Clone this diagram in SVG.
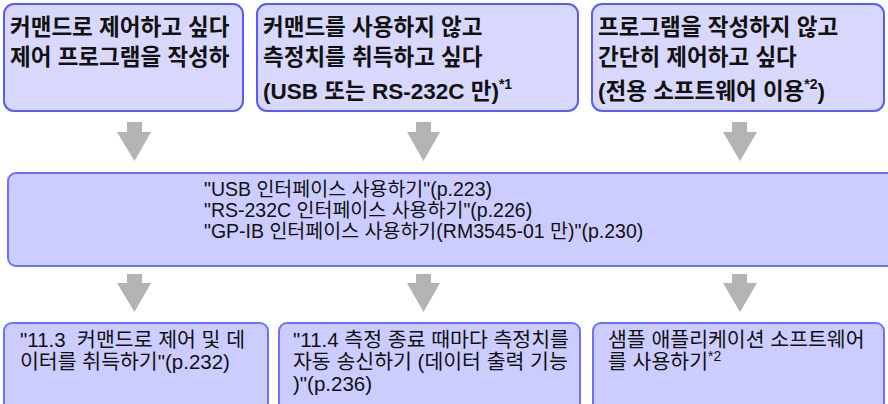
<svg xmlns="http://www.w3.org/2000/svg" width="888" height="404" viewBox="0 0 888 404">
<style>
.top{fill:#d8d8fc;stroke:#5a5aff;stroke-width:2}
.box{fill:#ccccff;stroke:#6e6eff;stroke-width:2}
.arr{fill:#b3b3b3}
text{font-family:"Liberation Sans","Noto Sans CJK KR",sans-serif;fill:#111}
.b{font-weight:bold;font-size:22.5px}
.r{font-size:19.5px}
.rb{font-size:20.5px}
.sup{font-size:14px}
</style>
<rect width="888" height="404" fill="#fff"/>
<g id="n1">
<rect class="top" x="4" y="4" width="239" height="107" rx="10"/>
<text class="b" x="10" y="35">커맨드로 제어하고 싶다</text>
<text class="b" x="10" y="65">제어 프로그램을 작성하</text>
</g>
<g id="n2">
<rect class="top" x="257" y="4" width="321" height="107" rx="10"/>
<text class="b" x="263" y="35">커맨드를 사용하지 않고</text>
<text class="b" x="263" y="65">측정치를 취득하고 싶다</text>
<text class="b" x="263" y="99">(USB 또는 RS-232C 만)<tspan class="sup" dy="-10">*1</tspan></text>
</g>
<g id="n3">
<rect class="top" x="592" y="4" width="292" height="107" rx="10"/>
<text class="b" x="598" y="35">프로그램을 작성하지 않고</text>
<text class="b" x="598" y="65">간단히 제어하고 싶다</text>
<text class="b" x="598" y="99">(전용 소프트웨어 이용<tspan class="sup" dy="-10">*2</tspan><tspan dy="10">)</tspan></text>
</g>
<g id="n4">
<rect class="box" x="8" y="173" width="892" height="93" rx="8"/>
<text class="r" x="204" y="196">"USB 인터페이스 사용하기"(p.223)</text>
<text class="r" x="204" y="217">"RS-232C 인터페이스 사용하기"(p.226)</text>
<text class="r" x="204" y="238">"GP-IB 인터페이스 사용하기(RM3545-01 만)"(p.230)</text>
</g>
<g id="n5">
<rect class="box" x="4" y="323" width="264" height="100" rx="8"/>
<text class="rb" x="20" y="347">"11.3&#160; 커맨드로 제어 및 데</text>
<text class="rb" x="20" y="369">이터를 취득하기"(p.232)</text>
</g>
<g id="n6">
<rect class="box" x="279" y="323" width="301" height="100" rx="8"/>
<text class="rb" x="293" y="347">"11.4 측정 종료 때마다 측정치를</text>
<text class="rb" x="293" y="369">자동 송신하기 (데이터 출력 기능</text>
<text class="rb" x="293" y="391">)"(p.236)</text>
</g>
<g id="n7">
<rect class="box" x="593" y="323" width="291" height="100" rx="8"/>
<text class="rb" x="608" y="347">샘플 애플리케이션 소프트웨어</text>
<text class="rb" x="608" y="369">를 사용하기<tspan class="sup" dy="-8">*2</tspan></text>
</g>
<g id="connectors">
<polygon class="arr" points="127,122 142,122 142,132 151,132 134.5,161 117,132 127,132"/>
<polygon class="arr" points="416,122 431,122 431,132 440,132 423.5,161 407,132 416,132"/>
<polygon class="arr" points="732,122 747,122 747,132 757,132 740,161 723,132 732,132"/>
<polygon class="arr" points="127,274 142,274 142,283 151,283 134.5,312 117,283 127,283"/>
<polygon class="arr" points="416,274 431,274 431,283 440,283 423.5,312 407,283 416,283"/>
<polygon class="arr" points="732,274 747,274 747,283 757,283 740,312 723,283 732,283"/>
</g>
</svg>
